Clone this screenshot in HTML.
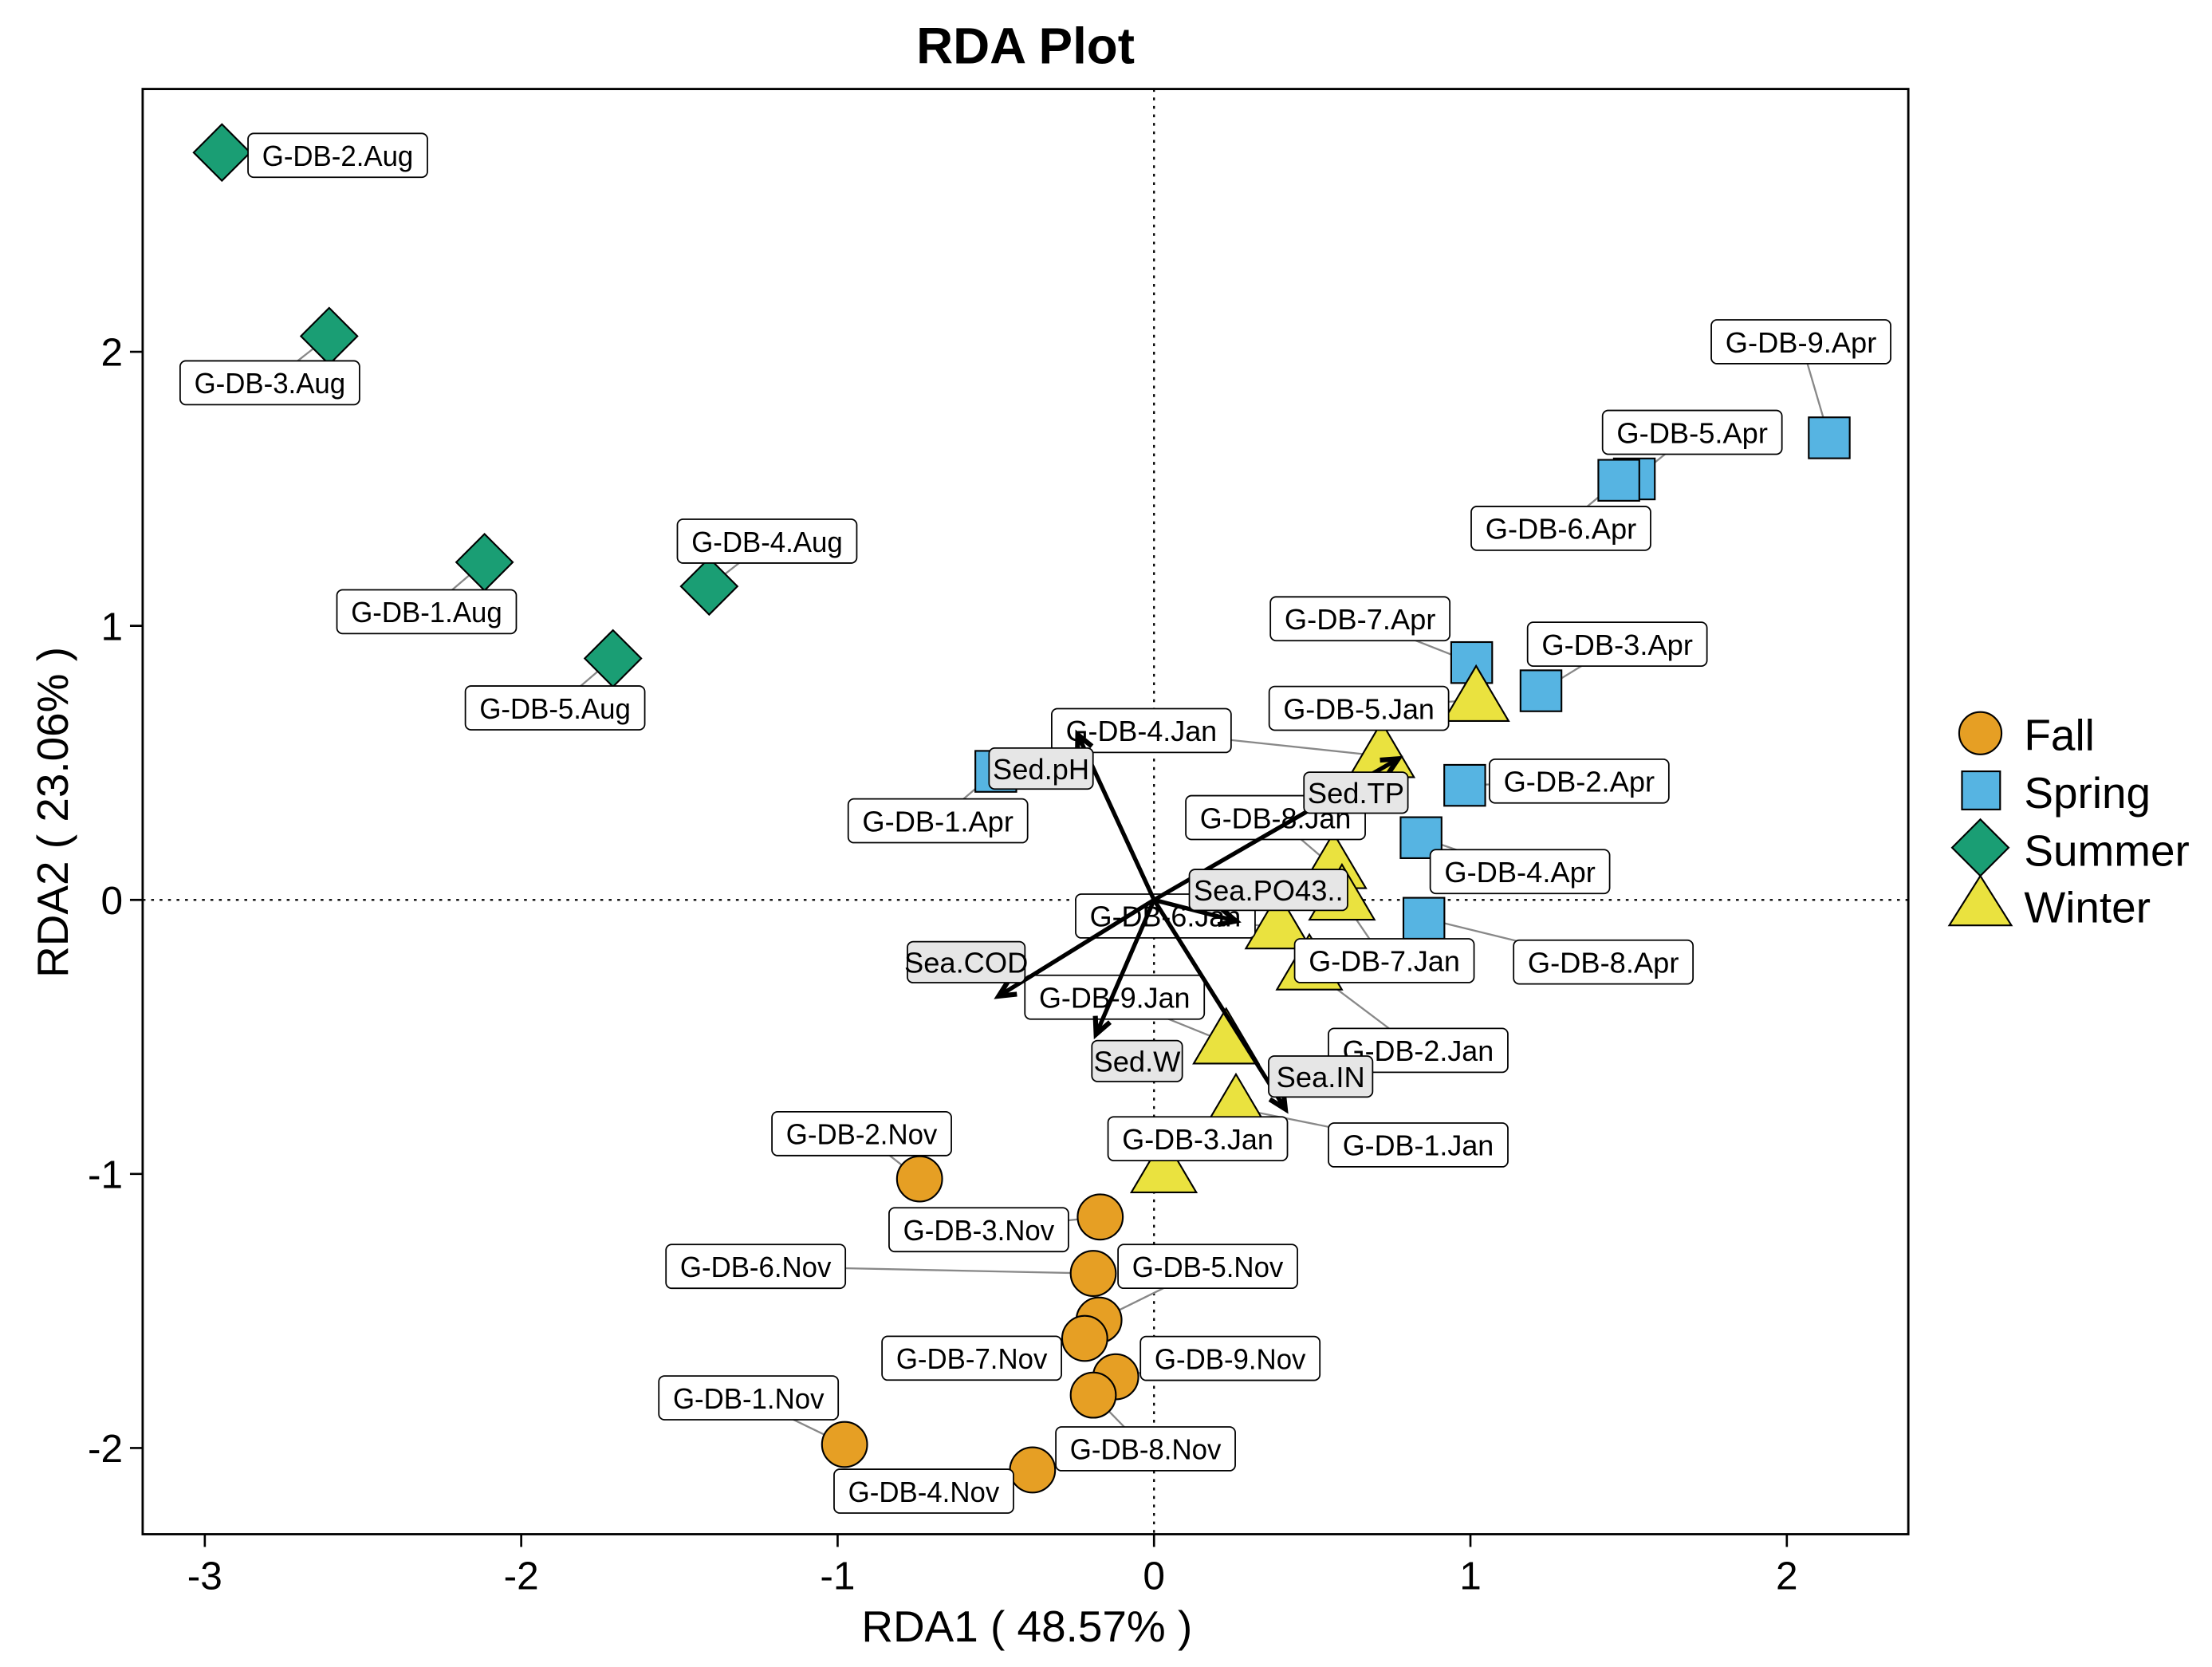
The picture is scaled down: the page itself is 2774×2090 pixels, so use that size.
<!DOCTYPE html>
<html><head><meta charset="utf-8"><style>
html,body{margin:0;padding:0;background:#fff}
svg{display:block;font-family:"Liberation Sans",Arial,sans-serif}
</style></head><body>
<svg id="chart" width="2774" height="2090" viewBox="0 0 1566 1180" preserveAspectRatio="none" xmlns="http://www.w3.org/2000/svg">
<rect x="0" y="0" width="1566" height="1180" fill="#fff"/>
<text x="726" y="45" text-anchor="middle" font-size="36" font-weight="bold">RDA Plot</text>
<g id="plot"></g>
<text x="727" y="1162" text-anchor="middle" font-size="31">RDA1 ( 48.57% )</text>
<text transform="translate(48,575) rotate(-90)" text-anchor="middle" font-size="31">RDA2 ( 23.06% )</text>
<g>
  <circle cx="1402" cy="519" r="15" fill="#E69F24" stroke="#000" stroke-width="1.2"/>
  <text x="1433" y="531" font-size="31">Fall</text>
  <rect x="1389" y="546" width="27" height="27" fill="#56B4E2" stroke="#000" stroke-width="1.2"/>
  <text x="1433" y="572" font-size="31">Spring</text>
  <polygon points="1402,580 1422,600 1402,620 1382,600" fill="#1A9E74" stroke="#000" stroke-width="1.2"/>
  <text x="1433" y="613" font-size="31">Summer</text>
  <polygon points="1402,620 1424,655 1380,655" fill="#EAE23F" stroke="#000" stroke-width="1.2"/>
  <text x="1433" y="653" font-size="31">Winter</text>
</g>
</svg>
<script>
// ---- data ----
const sampleNames = ["G-DB-2.Aug","G-DB-3.Aug","G-DB-1.Aug","G-DB-4.Aug","G-DB-5.Aug",
 "G-DB-9.Apr","G-DB-5.Apr","G-DB-6.Apr","G-DB-7.Apr","G-DB-3.Apr","G-DB-2.Apr","G-DB-4.Apr","G-DB-8.Apr","G-DB-1.Apr",
 "G-DB-5.Jan","G-DB-4.Jan","G-DB-8.Jan","G-DB-7.Jan","G-DB-6.Jan","G-DB-2.Jan","G-DB-9.Jan","G-DB-1.Jan","G-DB-3.Jan",
 "G-DB-2.Nov","G-DB-3.Nov","G-DB-6.Nov","G-DB-5.Nov","G-DB-7.Nov","G-DB-9.Nov","G-DB-8.Nov","G-DB-1.Nov","G-DB-4.Nov"];
const sampleSeason = ["Summer","Summer","Summer","Summer","Summer",
 "Spring","Spring","Spring","Spring","Spring","Spring","Spring","Spring","Spring",
 "Winter","Winter","Winter","Winter","Winter","Winter","Winter","Winter","Winter",
 "Fall","Fall","Fall","Fall","Fall","Fall","Fall","Fall","Fall"];
const rda1 = [-2.946,-2.607,-2.116,-1.406,-1.710,
 2.134,1.518,1.469,1.004,1.223,0.982,0.844,0.853,-0.500,
 1.018,0.719,0.567,0.594,0.393,0.491,0.228,0.259,0.031,
 -0.741,-0.170,-0.192,-0.174,-0.219,-0.121,-0.192,-0.978,-0.384];
const rda2 = [2.727,2.057,1.232,1.144,0.881,
 1.686,1.536,1.531,0.866,0.763,0.418,0.227,-0.067,0.469,
 0.730,0.525,0.120,0.005,-0.100,-0.250,-0.520,-0.760,-0.990,
 -1.018,-1.157,-1.363,-1.533,-1.600,-1.740,-1.807,-1.987,-2.080];
const envNames = ["Sed.pH","Sed.TP","Sea.PO43..","Sea.COD","Sed.W","Sea.IN"];
const envX = [-0.241,0.772,0.259,-0.491,-0.183,0.415];
const envY = [0.603,0.515,-0.077,-0.351,-0.490,-0.763];
const xTicks = [-3,-2,-1,0,1,2];
const yTicks = [-2,-1,0,1,2];
// ---- layout (label offsets in px, not data) ----
const labelDX = [82,-42,-41,41,-41, -20,41,-41,-79,54,81,70,127,-41, -83,-170,-41,30,-80,77,-79,129,24, -41,-86,-239,77,-80,81,37,-68,-77];
const labelDY = [2,33,35,-32,35, -68,-33,34,-31,-33,-3,24,31,35, 6,-18,-35,44,-8,58,-32,26,-23, -32,9,-5,-38,14,-13,38,-33,15];
const seasonColor = {Fall:"#E69F24",Spring:"#56B4E2",Summer:"#1A9E74",Winter:"#EAE23F"};
const X0=817, UX=224, Y0=637, UY=194, L=101, R=1351, T=63, B=1086;
function xs(v){return X0+v*UX;}
function ys(v){return Y0-v*UY;}
const NS="http://www.w3.org/2000/svg";
const g=document.getElementById('plot');
function mk(tag,attrs,parent){const e=document.createElementNS(NS,tag);for(const k in attrs)e.setAttribute(k,attrs[k]);(parent||g).appendChild(e);return e;}

let e=mk('rect',{x:L,y:T,width:R-L,height:B-T,fill:'none',stroke:'#000','stroke-width':1.6});


e=mk('line',{x1:xs(0),x2:xs(0),y1:T,y2:B,stroke:'#000','stroke-width':1.3,'stroke-dasharray':'2,4'});


e=mk('line',{x1:L,x2:R,y1:ys(0),y2:ys(0),stroke:'#000','stroke-width':1.3,'stroke-dasharray':'2,4'});


xTicks.forEach(t=>{
  const tk=mk('line',{x1:xs(t),x2:xs(t),y1:B,y2:B+9,stroke:'#000','stroke-width':1.5});
  
  
  const tx=mk('text',{x:xs(t),y:B+39,'text-anchor':'middle','font-size':28});
  tx.textContent=String(t);
  
  
});
yTicks.forEach(t=>{
  const tk=mk('line',{x1:L-9,x2:L,y1:ys(t),y2:ys(t),stroke:'#000','stroke-width':1.5});
  
  
  const tx=mk('text',{x:L-14,y:ys(t)+10,'text-anchor':'end','font-size':28});
  tx.textContent=String(t);
  
  
});
const labG=mk('g',{}); const ptG=mk('g',{}); const boxG=mk('g',{}); const arrG=mk('g',{}); const envG=mk('g',{});
sampleNames.forEach((n,i)=>{
  const px=xs(rda1[i]), py=ys(rda2[i]);
  const lx=px+labelDX[i], ly=py+labelDY[i];
  const c=mk('line',{x1:px,y1:py,x2:lx,y2:ly,stroke:'#888','stroke-width':1.3},labG);
  
  
  const s=sampleSeason[i], col=seasonColor[s];
  let m;
  if(s==='Fall') m=mk('circle',{cx:px,cy:py,r:16},ptG);
  else if(s==='Spring') m=mk('rect',{x:px-14.5,y:py-14.5,width:29,height:29},ptG);
  else if(s==='Summer') m=mk('polygon',{points:`${px},${py-20} ${px+20},${py} ${px},${py+20} ${px-20},${py}`},ptG);
  else m=mk('polygon',{points:`${px},${py-24} ${px+23},${py+15} ${px-23},${py+15}`},ptG);
  m.setAttribute('fill',col); m.setAttribute('stroke','#000'); m.setAttribute('stroke-width','1.2');
  
  
  const w = n.length>=10 ? 127 : 123;
  const bx=mk('rect',{x:lx-w/2,y:ly-15.5,width:w,height:31,rx:4,fill:'#fff',stroke:'#000','stroke-width':1},boxG);
  
  
  const t=mk('text',{x:lx,y:ly+7.5,'text-anchor':'middle','font-size':20.5,'textLength':w-20,'lengthAdjust':'spacingAndGlyphs'},boxG);
  t.textContent=n;
  
  
});
const envLDX=[-26,-30,23,-23,29,25];
const envLDY=[24,24,-22,-24,19,-23];
envNames.forEach((n,i)=>{
  const x1=xs(0),y1=ys(0),x2=xs(envX[i]),y2=ys(envY[i]);
  const a=mk('line',{x1:x1,y1:y1,x2:x2,y2:y2,stroke:'#000','stroke-width':3},arrG);
  
  
  const ang=Math.atan2(y2-y1,x2-x1), h=13, sp=0.45;
  const p=`M${x2-h*Math.cos(ang-sp)},${y2-h*Math.sin(ang-sp)} L${x2},${y2} L${x2-h*Math.cos(ang+sp)},${y2-h*Math.sin(ang+sp)}`;
  const hd=mk('path',{d:p,fill:'none',stroke:'#000','stroke-width':3.5},arrG);
  
  
  const lx=x2+envLDX[i], ly=y2+envLDY[i];
  const w=n.length*9.6+16;
  const bx=mk('rect',{x:lx-w/2,y:ly-14.5,width:w,height:29,rx:4,fill:'#e6e6e6',stroke:'#000','stroke-width':1},envG);
  
  
  const t=mk('text',{x:lx,y:ly+7.5,'text-anchor':'middle','font-size':20.5},envG);
  t.textContent=n;
  
  
});
</script>
</body></html>
